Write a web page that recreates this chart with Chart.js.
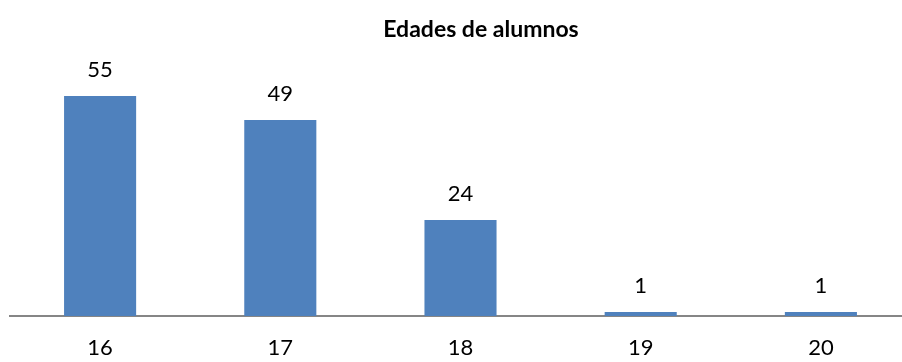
<!DOCTYPE html>
<html>
<head>
<meta charset="utf-8">
<script src="https://cdn.jsdelivr.net/npm/chart.js@4.4.1/dist/chart.umd.min.js"></script>
<style>
  html, body { margin: 0; padding: 0; background: #fff; overflow: hidden; }
  #wrap { width: 962px; height: 362px; }
</style>
</head>
<body>
<div id="wrap"><canvas id="chart"></canvas></div>
<script>
const edades = ['16', '17', '18', '19', '20'];
const alumnos = [55, 49, 24, 1, 1];
const tituloGrafico = 'Edades de alumnos';

// labels above each bar, taken from the bar's own data value
const barLabels = {
    id: 'barLabels',
    afterDatasetsDraw(chart) {
        const ctx = chart.ctx;
        const meta = chart.getDatasetMeta(0);
        ctx.save();
        ctx.font = '22px Lato, sans-serif';
        ctx.fillStyle = '#000';
        ctx.textAlign = 'center';
        ctx.textBaseline = 'alphabetic';
        meta.data.forEach((bar, i) => {
            ctx.fillText(String(chart.data.datasets[0].data[i]), bar.x, bar.y - 19);
        });
        ctx.restore();
    }
};

// title sits a little right of the plot's centre, so it is drawn by hand
const chartTitle = {
    id: 'chartTitle',
    afterDraw(chart) {
        const ctx = chart.ctx;
        ctx.save();
        ctx.font = 'bold 23px Lato, sans-serif';
        ctx.fillStyle = '#000';
        ctx.textAlign = 'center';
        ctx.textBaseline = 'alphabetic';
        ctx.fillText(tituloGrafico, 481, 37);
        ctx.restore();
    }
};

new Chart(document.getElementById('chart'), {
    type: 'bar',
    data: {
        labels: edades,
        datasets: [{
            data: alumnos,
            backgroundColor: '#4F81BD',
            borderWidth: 0,
            barPercentage: 0.5,
            categoryPercentage: 0.8
        }]
    },
    options: {
        responsive: true,
        maintainAspectRatio: false,
        animation: false,
        layout: { padding: { left: 10, right: 51, top: 76, bottom: 0 } },
        plugins: {
            legend: { display: false },
            tooltip: { enabled: false },
            title: { display: false }
        },
        scales: {
            x: {
                grid: { display: false, drawTicks: false },
                border: { display: true, color: '#868686', width: 2 },
                ticks: {
                    color: '#000',
                    padding: 19,
                    font: { family: 'Lato, sans-serif', size: 22 }
                },
                afterFit: (scale) => { scale.height = 46; }
            },
            y: {
                display: false,
                min: 0,
                max: 60
            }
        }
    },
    plugins: [barLabels, chartTitle]
});
</script>
</body>
</html>
